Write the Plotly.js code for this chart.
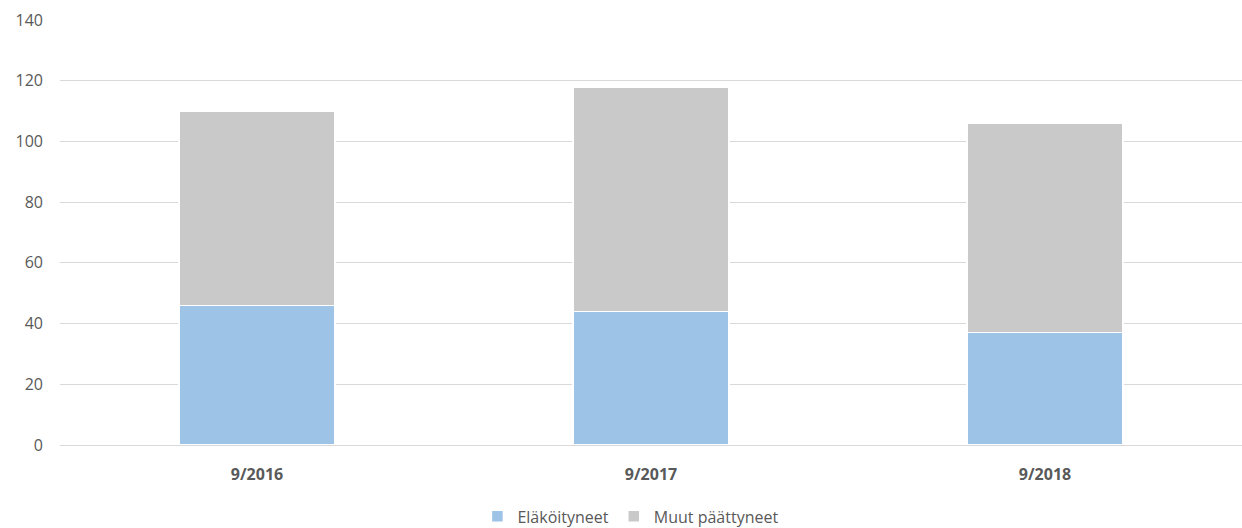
<!DOCTYPE html>
<html>
<head>
<meta charset="utf-8">
<script src="https://cdn.plot.ly/plotly-3.0.1.min.js"></script>
<style>html,body{margin:0;padding:0;background:#fff;overflow:hidden;}#chart{width:1242px;height:528px;}</style>
</head>
<body>
<div id="chart"></div>
<script>
const categories = ["9/2016", "9/2017", "9/2018"];
const elakoityneet = [46, 44, 37];
const muutPaattyneet = [64, 74, 69];
const seriesNames = ["Eläköityneet", "Muut päättyneet"];
const yTicks = [0, 20, 40, 60, 80, 100, 120, 140];

const font = "'Open Sans', 'Noto Sans', sans-serif";
const traces = [
  {
    type: "bar", name: seriesNames[0], x: categories, y: elakoityneet,
    marker: {color: "#9DC3E6", line: {color: "#ffffff", width: 1.5}},
    hoverinfo: "y+name"
  },
  {
    type: "bar", name: seriesNames[1], x: categories, y: muutPaattyneet,
    marker: {color: "#C9C9C9", line: {color: "#ffffff", width: 1.5}},
    hoverinfo: "y+name"
  }
];
const layout = {
  width: 1242, height: 528,
  margin: {l: 60, r: 0, t: 20, b: 83, autoexpand: false},
  barmode: "stack",
  bargap: 0.605,
  paper_bgcolor: "#ffffff", plot_bgcolor: "#ffffff",
  font: {family: font, size: 16, color: "#595959"},
  showlegend: true,
  legend: {
    orientation: "h", x: 0.483, xanchor: "center",
    yref: "container", y: 0.022, yanchor: "middle",
    font: {family: font, size: 16, color: "#595959"},
    traceorder: "normal"
  },
  xaxis: {
    type: "category",
    showline: true, linecolor: "#D9D9D9", linewidth: 1,
    showgrid: false, zeroline: false,
    ticks: "", ticklabelstandoff: 15,
    tickfont: {family: font, size: 16, color: "#595959", weight: "bold"}
  },
  yaxis: {
    range: [0, 140], tickvals: yTicks, ticktext: yTicks.map(String),
    showgrid: true, gridcolor: "#D9D9D9", gridwidth: 1,
    zeroline: false, showline: false, ticks: "",
    ticklabelstandoff: 16,
    tickfont: {family: font, size: 16, color: "#595959"}
  }
};
Plotly.newPlot("chart", traces, layout, {displayModeBar: false, staticPlot: true});
</script>
</body>
</html>
